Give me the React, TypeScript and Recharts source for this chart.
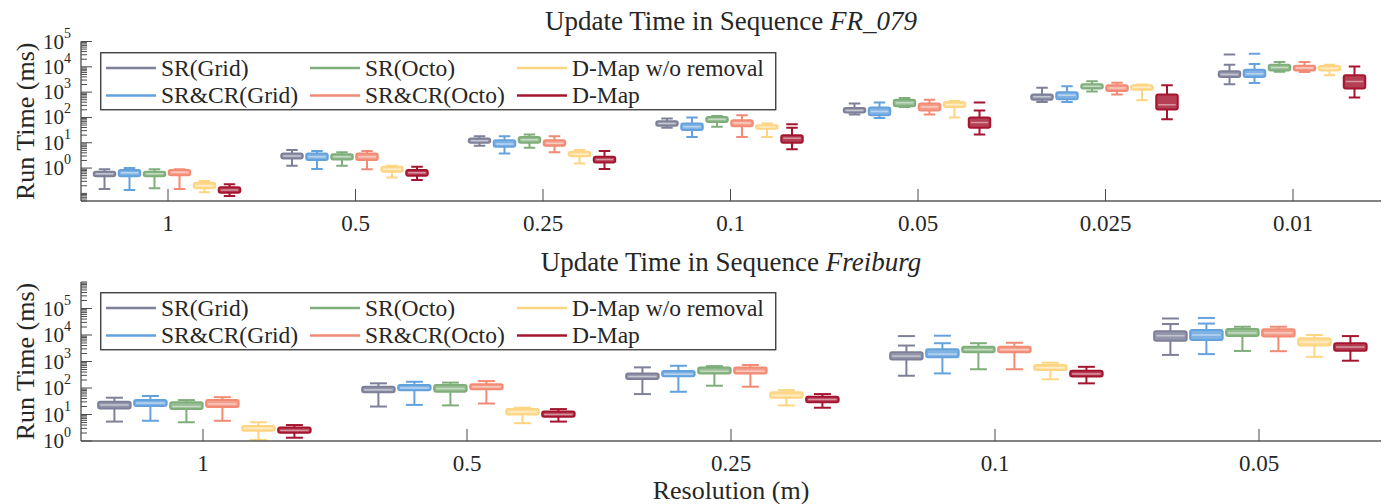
import React from 'react';
import { ComposedChart, Bar, XAxis, YAxis, Legend } from 'recharts';

const FONT = '"Liberation Serif", "Times New Roman", Times, serif';
const TEXT = '#262626';
const FRAME = '#5a5a5a';
const TICK = '#4a4a4a';

const SERIES_NAMES = ['SR(Grid)', 'SR&CR(Grid)', 'SR(Octo)', 'SR&CR(Octo)', 'D-Map w/o removal', 'D-Map'];
const SERIES_KEYS = ['srGrid', 'srcrGrid', 'srOcto', 'srcrOcto', 'dmapNoRemoval', 'dmap'];
const SERIES_COLORS = ['#7d8098', '#64a2de', '#7fae7b', '#f28a74', '#fed583', '#a5152f'];

// ---------- FR_079 ----------
const fr079Categories = ['1', '0.5', '0.25', '0.1', '0.05', '0.025', '0.01'];
// each entry: [min, q1, median, q3, max]
const fr079SRGrid = [
  [0.15, 0.48, 0.6, 0.71, 0.89], [1.23, 2.4, 3.0, 3.8, 5.2], [7.6, 10, 12, 14.8, 18],
  [39, 47, 58, 71, 91], [130, 155, 190, 235, 355], [410, 500, 650, 815, 1500], [2030, 3950, 5000, 6750, 12000],
];
const fr079SRCRGrid = [
  [0.136, 0.48, 0.65, 0.83, 1.0], [0.91, 2.07, 2.8, 3.8, 4.7], [3.8, 6.9, 9, 12.6, 18],
  [17, 32, 43, 57, 100], [95, 123, 170, 245, 390], [410, 520, 750, 1000, 1700], [2300, 3950, 5300, 7700, 13000],
];
const fr079SROcto = [
  [0.158, 0.48, 0.6, 0.71, 0.89], [1.23, 2.2, 2.8, 3.55, 4.2], [6.3, 10, 13, 17, 21],
  [42.5, 66, 85, 105, 115], [260, 275, 380, 500, 590], [1070, 1380, 1700, 2040, 2660], [6400, 7200, 9500, 12000, 15500],
];
const fr079SRCROcto = [
  [0.15, 0.52, 0.68, 0.83, 0.9], [0.9, 2.07, 2.8, 3.8, 4.7], [4.2, 7.6, 9.5, 12.6, 18],
  [17, 45, 60, 78, 123], [130, 190, 260, 355, 500], [815, 1100, 1450, 1850, 2350], [6300, 7200, 9000, 11000, 15500],
];
const fr079DMapNoRemoval = [
  [0.11, 0.158, 0.2, 0.264, 0.31], [0.42, 0.71, 0.9, 1.12, 1.23], [1.5, 2.95, 3.5, 4.4, 5.2],
  [17, 36, 42, 49, 57], [100, 260, 320, 405, 450], [480, 1250, 1550, 1850, 2000], [4600, 7200, 8500, 10700, 12000],
];
const fr079DMap = [
  [0.079, 0.107, 0.135, 0.174, 0.23], [0.34, 0.5, 0.65, 0.83, 1.12], [0.91, 1.66, 2.2, 2.8, 4.7],
  [5.5, 10, 15, 20, 39], [21, 39, 63, 100, 190], [85, 205, 320, 815, 1850], [610, 1380, 2650, 4600, 10400],
];
// [seriesIndex, categoryIndex, value]
const fr079Outliers = [
  [0, 6, 31000], [1, 6, 33000], [5, 3, 54], [5, 4, 390],
];

// ---------- Freiburg ----------
const freiburgCategories = ['1', '0.5', '0.25', '0.1', '0.05'];
const freiburgSRGrid = [
  [5.4, 17, 23, 30, 43], [20, 69, 85, 112, 150], [59, 220, 270, 355, 600], [290, 1200, 1600, 2240, 4000], [1770, 6100, 9400, 14000, 26000],
];
const freiburgSRCRGrid = [
  [5.8, 21, 27, 35, 50], [23, 83, 100, 129, 172], [72, 280, 330, 440, 690], [355, 1450, 1900, 2900, 4900], [1900, 6500, 10000, 15500, 27000],
];
const freiburgSROcto = [
  [5.1, 16, 20, 29, 35], [22, 72, 95, 129, 160], [122, 355, 430, 600, 670], [510, 2240, 2800, 3600, 4900], [2500, 9100, 12000, 17000, 20500],
];
const freiburgSRCROcto = [
  [5.8, 19, 25, 35, 45], [26, 89, 110, 138, 182], [112, 355, 430, 600, 740], [510, 2240, 2800, 3600, 5100], [2450, 8800, 12000, 16500, 20500],
];
const freiburgDMapNoRemoval = [
  [1.1, 2.45, 3.0, 3.7, 5.1], [4.7, 10, 12.5, 16, 18], [22, 43, 52, 69, 83], [213, 480, 580, 740, 900], [1500, 4000, 5500, 7600, 10000],
];
const freiburgDMap = [
  [1.33, 2.05, 2.5, 3.2, 4.0], [5.4, 8.3, 10, 13, 16], [18, 29, 37, 47, 59], [150, 270, 340, 450, 630], [1070, 2550, 3500, 4900, 9100],
];
const freiburgOutliers = [
  [0, 3, 9100], [1, 3, 9400], [0, 4, 42000], [1, 4, 44000],
];

const labelledExponents = [0, 1, 2, 3, 4, 5];
const minorMultipliers = [2, 3, 4, 5, 6, 7, 8, 9];

function logTicks(lo: number, hi: number) {
  const t: number[] = [];
  for (let e = Math.floor(Math.log10(lo)); e <= Math.ceil(Math.log10(hi)); e++) {
    for (const m of [1, ...minorMultipliers]) {
      const v = m * Math.pow(10, e);
      if (v >= lo * 0.999 && v <= hi * 1.001) t.push(v);
    }
  }
  return t;
}

function buildRows(categories: string[], series: number[][][], outliers: number[][]) {
  return categories.map((cat, ci) => {
    const row: any = { cat };
    SERIES_KEYS.forEach((k, si) => {
      const [min, q1, med, q3, max] = series[si][ci];
      const out = outliers.filter((o) => o[0] === si && o[1] === ci).map((o) => o[2]);
      row[k] = { min, q1, med, q3, max, out, lo: Math.min(min, ...out), hi: Math.max(max, ...out) };
    });
    return row;
  });
}

const fr079Rows = buildRows(
  fr079Categories,
  [fr079SRGrid, fr079SRCRGrid, fr079SROcto, fr079SRCROcto, fr079DMapNoRemoval, fr079DMap],
  fr079Outliers,
);
const freiburgRows = buildRows(
  freiburgCategories,
  [freiburgSRGrid, freiburgSRCRGrid, freiburgSROcto, freiburgSRCROcto, freiburgDMapNoRemoval, freiburgDMap],
  freiburgOutliers,
);

const makeBoxShape = (key: string, color: string) => (props: any) => {
  const { x, y, width, height, payload } = props;
  const s = payload && payload[key];
  if (!s || width == null || y == null) return <g />;
  const top = Math.min(y, y + height);
  const bot = Math.max(y, y + height);
  const lhi = Math.log10(s.hi);
  const llo = Math.log10(s.lo);
  const py = (v: number) => (lhi === llo ? top : top + ((bot - top) * (lhi - Math.log10(v))) / (lhi - llo));
  const cx = x + width / 2;
  const bw = width - 1.5;
  const capW = width * 0.5;
  const yMax = py(s.max);
  const yQ3 = py(s.q3);
  const yMed = py(s.med);
  const yQ1 = py(s.q1);
  const yMin = py(s.min);
  return (
    <g>
      <line x1={cx} x2={cx} y1={yMax} y2={yQ3} stroke={color} strokeWidth={2} />
      <line x1={cx} x2={cx} y1={yQ1} y2={yMin} stroke={color} strokeWidth={2} />
      <line x1={cx - capW / 2} x2={cx + capW / 2} y1={yMax} y2={yMax} stroke={color} strokeWidth={2} />
      <line x1={cx - capW / 2} x2={cx + capW / 2} y1={yMin} y2={yMin} stroke={color} strokeWidth={2} />
      <rect
        x={cx - bw / 2}
        y={yQ3}
        width={bw}
        height={Math.max(yQ1 - yQ3, 1)}
        rx={2}
        fill={color}
        fillOpacity={0.82}
        stroke={color}
        strokeWidth={2}
      />
      <line x1={cx - bw / 2 + 2} x2={cx + bw / 2 - 2} y1={yMed} y2={yMed} stroke="#ffffff" strokeOpacity={0.45} strokeWidth={1.5} />
      {s.out.map((o: number, i: number) => (
        <line key={i} x1={cx - capW / 2} x2={cx + capW / 2} y1={py(o)} y2={py(o)} stroke={color} strokeWidth={2} />
      ))}
    </g>
  );
};

const makeYTick = (side: 'left' | 'right') => (props: any) => {
  const { x, y, payload } = props;
  const v = payload.value;
  const lg = Math.log10(v);
  const e = Math.round(lg);
  const isMajor = Math.abs(lg - e) < 1e-6 && labelledExponents.includes(e);
  const len = isMajor ? 11 : 6;
  const dir = side === 'left' ? 1 : -1;
  return (
    <g>
      <line x1={x} x2={x + dir * len} y1={y} y2={y} stroke={TICK} strokeWidth={1} />
      {side === 'left' && isMajor && (
        <text x={x - 10} y={y + 7} textAnchor="end" fontFamily={FONT} fontSize={21} fill={TEXT}>
          10
          <tspan dy={-11} fontSize={14}>
            {e}
          </tspan>
        </text>
      )}
    </g>
  );
};

const XBottomTick = (props: any) => {
  const { x, y, payload } = props;
  return (
    <g>
      <line x1={x} x2={x} y1={y} y2={y - 12} stroke={TICK} strokeWidth={1} />
      <text x={x} y={y + 29.5} textAnchor="middle" fontFamily={FONT} fontSize={23} fill={TEXT}>
        {payload.value}
      </text>
    </g>
  );
};

const XTopTick = (props: any) => {
  const { x, y } = props;
  return <line x1={x} x2={x} y1={y} y2={y + 10} stroke={TICK} strokeWidth={1} />;
};

const renderLegend = (props: any) => {
  const payload = [...(props.payload || [])].sort(
    (a: any, b: any) => SERIES_NAMES.indexOf(a.value) - SERIES_NAMES.indexOf(b.value),
  );
  const cols = [6, 210, 417];
  return (
    <svg width={677} height={59} style={{ display: 'block' }}>
      <rect x={0.75} y={0.75} width={675} height={57} fill="#ffffff" stroke="#333333" strokeWidth={1.3} />
      {payload.map((p: any, i: number) => {
        const col = Math.floor(i / 2);
        const row = i % 2;
        const lx = cols[col];
        const ly = row === 0 ? 16 : 43.5;
        return (
          <g key={i}>
            <line x1={lx} x2={lx + 50} y1={ly} y2={ly} stroke={p.color} strokeWidth={2.5} />
            <text x={lx + 55} y={ly + 7.8} fontFamily={FONT} fontSize={23.5} fill={TEXT}>
              {p.value}
            </text>
          </g>
        );
      })}
    </svg>
  );
};

type PanelProps = {
  rows: any[];
  yDomain: [number, number];
  height: number;
  marginTop: number;
  xAxisHeight: number;
  xPadding: { left: number; right: number };
  legendTop: number;
  xLabel?: string;
};

function Panel({ rows, yDomain, height, marginTop, xAxisHeight, xPadding, legendTop, xLabel }: PanelProps) {
  const ticks = logTicks(yDomain[0], yDomain[1]);
  const axisLine = { stroke: FRAME, strokeWidth: 1.4 };
  return (
    <ComposedChart
      width={1385}
      height={height}
      data={rows}
      margin={{ top: marginTop, right: 4, bottom: 0, left: 6 }}
      barGap={2}
      barCategoryGap="10%"
    >
      <XAxis
        dataKey="cat"
        type="category"
        height={xAxisHeight}
        padding={xPadding}
        axisLine={axisLine}
        tickLine={false}
        tickSize={0}
        tickMargin={0}
        interval={0}
        tick={XBottomTick}
        label={
          xLabel
            ? { value: xLabel, position: 'insideBottom', offset: 5, style: { fontFamily: FONT, fontSize: 26, fill: TEXT } }
            : undefined
        }
      />
      <XAxis
        xAxisId="top"
        orientation="top"
        dataKey="cat"
        type="category"
        height={0}
        padding={xPadding}
        axisLine={axisLine}
        tickLine={false}
        tickSize={0}
        tickMargin={0}
        interval={0}
        tick={XTopTick}
      />
      <YAxis
        yAxisId="l"
        orientation="left"
        type="number"
        scale="log"
        domain={yDomain}
        allowDataOverflow
        ticks={ticks}
        interval={0}
        width={75}
        axisLine={axisLine}
        tickLine={false}
        tickSize={0}
        tickMargin={0}
        tick={makeYTick('left')}
        label={{
          value: 'Run Time (ms)',
          angle: -90,
          position: 'insideLeft',
          offset: 19,
          style: { textAnchor: 'middle', fontFamily: FONT, fontSize: 26, fill: TEXT },
        }}
      />
      <YAxis
        yAxisId="r"
        orientation="right"
        type="number"
        scale="log"
        domain={yDomain}
        allowDataOverflow
        ticks={ticks}
        interval={0}
        width={0}
        axisLine={axisLine}
        tickLine={false}
        tickSize={0}
        tickMargin={0}
        tick={makeYTick('right')}
      />
      <Legend
        content={renderLegend}
        layout="horizontal"
        verticalAlign="middle"
        align="center"
        wrapperStyle={{ position: 'absolute', left: 100, top: legendTop, width: 677, height: 59 }}
      />
      {SERIES_KEYS.map((k, si) => (
        <Bar
          key={k}
          yAxisId="l"
          name={SERIES_NAMES[si]}
          dataKey={(row: any) => [row[k].lo, row[k].hi]}
          fill={SERIES_COLORS[si]}
          legendType="line"
          isAnimationActive={false}
          shape={makeBoxShape(k, SERIES_COLORS[si])}
        />
      ))}
    </ComposedChart>
  );
}

const titleStyle: React.CSSProperties = {
  position: 'absolute',
  left: 81,
  width: 1300,
  textAlign: 'center',
  fontFamily: FONT,
  fontSize: 27,
  lineHeight: '27px',
  color: TEXT,
  whiteSpace: 'nowrap',
  zIndex: 2,
};

export default function App() {
  return (
    <div style={{ position: 'absolute', left: 0, top: 0, width: 1385, height: 504, background: '#ffffff', overflow: 'hidden' }}>
      <div style={{ position: 'absolute', left: 0, top: 0, width: 1385, height: 250 }}>
        <Panel
          rows={fr079Rows}
          yDomain={[0.05, 100000]}
          height={250}
          marginTop={41.5}
          xAxisHeight={49}
          xPadding={{ left: -6.75, right: -5.75 }}
          legendTop={52}
        />
      </div>
      <div style={{ position: 'absolute', left: 0, top: 250, width: 1385, height: 254 }}>
        <Panel
          rows={freiburgRows}
          yDomain={[1, 1000000]}
          height={254}
          marginTop={32}
          xAxisHeight={63}
          xPadding={{ left: -10, right: -10 }}
          legendTop={41.7}
          xLabel="Resolution (m)"
        />
      </div>
      <div style={{ ...titleStyle, top: 8 }}>
        Update Time in Sequence <i>FR_079</i>
      </div>
      <div style={{ ...titleStyle, top: 249 }}>
        Update Time in Sequence <i>Freiburg</i>
      </div>
    </div>
  );
}
